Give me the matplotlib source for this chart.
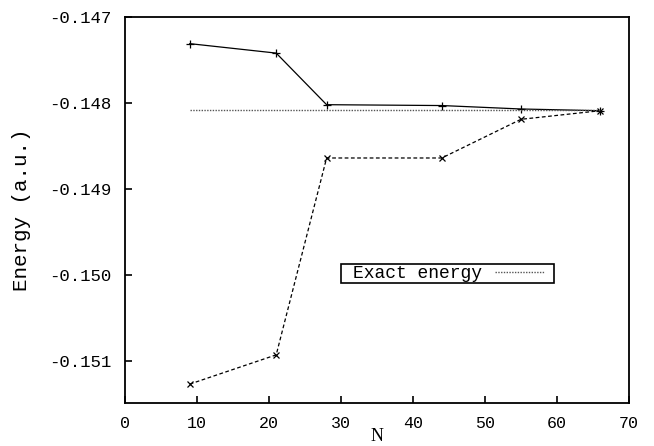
import matplotlib

matplotlib.use("Agg")
import matplotlib.pyplot as plt
from matplotlib.patches import Rectangle

# basis size N and energies (a.u.)
n_upper = [9, 21, 28, 44, 55, 66]
e_upper = [-0.14731, -0.14742, -0.14802, -0.14803, -0.14807, -0.14809]

n_lower = [9, 21, 28, 44, 55, 66]
e_lower = [-0.15127, -0.15093, -0.14864, -0.14864, -0.14819, -0.14809]

n_exact = [9, 66]
e_exact = [-0.14808, -0.14808]

x_ticks = [0, 10, 20, 30, 40, 50, 60, 70]
y_ticks = [-0.147, -0.148, -0.149, -0.150, -0.151]

mono = ["Liberation Mono", "DejaVu Sans Mono"]
W, H = 654, 446

fig = plt.figure(figsize=(W / 100, H / 100), dpi=100)
ax = fig.add_axes([125 / W, 1 - 403 / H, 504 / W, 386 / H])

ax.plot(n_upper, e_upper, color="black", lw=0.9, marker="+", ms=6, mew=0.9)
ax.plot(n_lower, e_lower, color="black", lw=0.9, ls=(0, (3, 2)), marker="x", ms=5, mew=0.9)
exact, = ax.plot(n_exact, e_exact, color="#555555", lw=1.0, ls=(0, (1, 1)))

ax.set_xlim(0, 70)
ax.set_ylim(-0.15149, -0.147)
ax.set_xticks(x_ticks)
ax.set_yticks(y_ticks)
ax.set_xticklabels([str(t) for t in x_ticks], family=mono, fontsize=12)
ax.set_yticklabels([f"{t:.3f}" for t in y_ticks], family=mono, fontsize=12.5)
ax.tick_params(direction="in", length=5, width=1.2)
ax.tick_params(axis="x", pad=9)
ax.tick_params(axis="y", pad=10)
for sp in ax.spines.values():
    sp.set_linewidth(1.3)

ax.set_xlabel("N", family="Liberation Serif", fontsize=13, labelpad=-2)
ax.set_ylabel("Energy (a.u.)", family=mono, fontsize=15, labelpad=13)

# legend box in the style of the original (wider padding than matplotlib's frame)
leg = ax.legend([exact], ["Exact energy"], loc="upper left",
                bbox_to_anchor=((351 - 125) / 504, (403 - 263) / 386),
                prop={"family": mono, "size": 13}, markerfirst=False,
                frameon=False, handlelength=2.7,
                borderpad=0.12, handletextpad=0.7, borderaxespad=0)
fig.add_artist(Rectangle((341 / W, 1 - 283 / H), 213 / W, 19 / H,
                         transform=fig.transFigure, fill=False,
                         edgecolor="black", lw=1.2))

fig.savefig("out.png", dpi=100)
